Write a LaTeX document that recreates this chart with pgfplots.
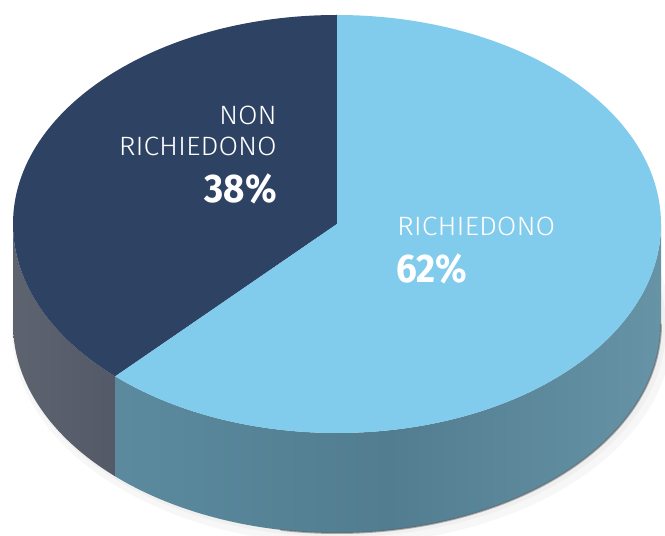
\documentclass[border=0pt]{standalone}
\usepackage{pgfplots}
\usepackage{pgfplotstable}
\pgfplotsset{compat=1.18}
\usepackage{fontspec}
\setmainfont{Fira Sans}[UprightFont=* Light, BoldFont=* Bold]
\definecolor{darktop}{HTML}{2E4263}
\definecolor{lighttop}{HTML}{81CCEC}
\definecolor{darksideL}{HTML}{5E6370}
\definecolor{darksideR}{HTML}{3F4455}
\definecolor{lightsideL}{HTML}{5B8A9E}
\definecolor{lightsideM}{HTML}{527D90}
\definecolor{lightsideR}{HTML}{6793A6}
\pgfplotstableread{
group value
NON 38
RICH 62
}\piedata
\begin{document}
\begin{tikzpicture}
\pgfplotstablegetelem{0}{value}\of\piedata
\pgfmathsetmacro{\aA}{90+3.6*\pgfplotsretval}
\pgfmathsetmacro{\aEnd}{450}
\begin{axis}[width=665pt,height=536pt,scale only axis,
  xmin=0,xmax=665,ymin=0,ymax=536,hide axis,clip=true]
% faint ground shadow
\fill[black!3] (axis cs:342,206) ellipse [x radius=330pt, y radius=214pt];
\fill[black!6] (axis cs:340,209) ellipse [x radius=326pt, y radius=210pt];
% dark side wall
\shade[left color=darksideL, right color=darksideR]
  (axis cs:337,312) ++(180:324pt and 209pt)
  arc[start angle=180, end angle=\aA, x radius=324pt, y radius=209pt]
  -- ++(0pt,-100pt)
  arc[start angle=\aA, end angle=180, x radius=324pt, y radius=209pt]
  -- cycle;
% light side wall
\shade[left color=lightsideL, right color=lightsideR, middle color=lightsideM]
  (axis cs:337,312) ++(\aA:324pt and 209pt)
  arc[start angle=\aA, end angle=360, x radius=324pt, y radius=209pt]
  -- ++(0pt,-100pt)
  arc[start angle=360, end angle=\aA, x radius=324pt, y radius=209pt]
  -- cycle;
% rim shadow at bottom right
\draw[black!60, line width=2pt, opacity=0.5]
  (axis cs:337,212) ++(260:324pt and 209pt)
  arc[start angle=260, end angle=360, x radius=324pt, y radius=209pt];
% top faces
\fill[darktop] (axis cs:337,312) -- ++(90:324pt and 209pt)
  arc[start angle=90, end angle=\aA, x radius=324pt, y radius=209pt] -- cycle;
\fill[lighttop] (axis cs:337,312) -- ++(\aA:324pt and 209pt)
  arc[start angle=\aA, end angle=\aEnd, x radius=324pt, y radius=209pt] -- cycle;
% labels
\node[anchor=base east, text=white, inner sep=0pt, font=\fontsize{26.5}{28}\selectfont] at (axis cs:277,411) {\scalebox{1.07}[1]{NON}};
\node[anchor=base east, text=white, inner sep=0pt, font=\fontsize{26.5}{28}\selectfont] at (axis cs:277,380) {\scalebox{1.07}[1]{RICHIEDONO}};
\node[anchor=base east, text=white, inner sep=0pt, font=\fontsize{40}{42}\selectfont\bfseries] at (axis cs:277,333) {\scalebox{0.92}[1]{38\%}};
\node[anchor=base west, text=white, inner sep=0pt, font=\fontsize{26.5}{28}\selectfont] at (axis cs:397,300) {\scalebox{1.07}[1]{RICHIEDONO}};
\node[anchor=base west, text=white, inner sep=0pt, font=\fontsize{40}{42}\selectfont\bfseries] at (axis cs:396,253) {\scalebox{0.92}[1]{62\%}};
\end{axis}
\pgfresetboundingbox
\useasboundingbox (current axis.south west) rectangle (current axis.north east);
\end{tikzpicture}
\end{document}
